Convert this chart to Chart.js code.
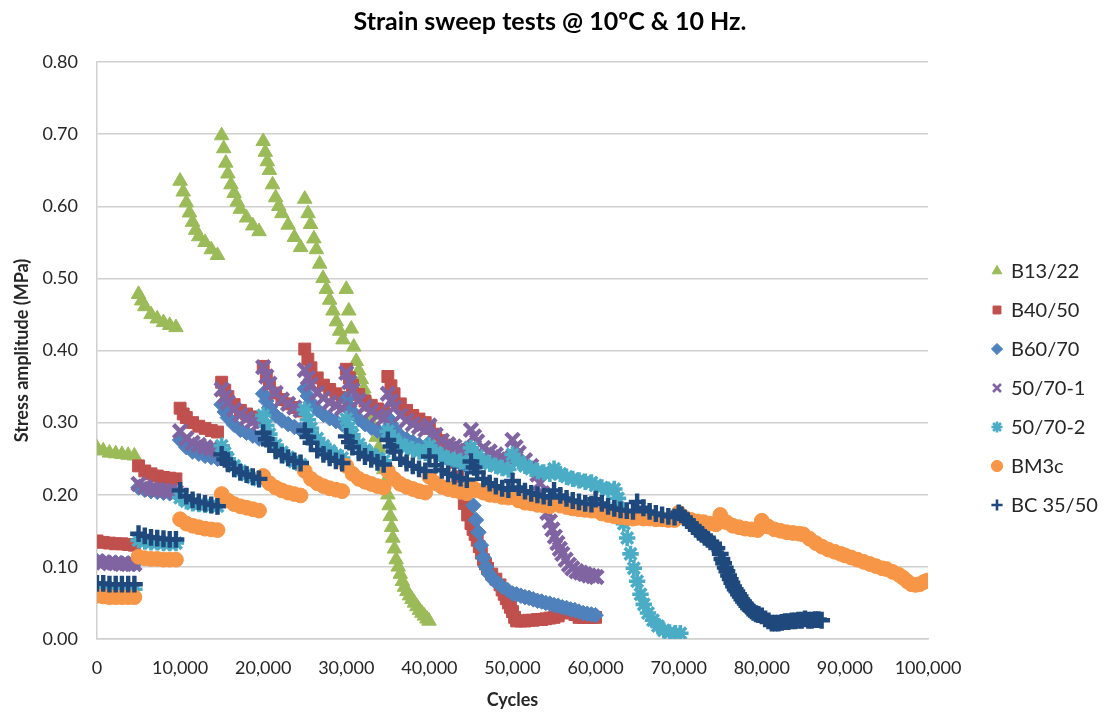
<!DOCTYPE html>
<html>
<head>
<meta charset="utf-8">
<script src="https://cdn.jsdelivr.net/npm/chart.js@4/dist/chart.umd.min.js"></script>
<style>
  html, body { margin: 0; padding: 0; background: #fff; }
  #wrap { width: 1111px; height: 715px; position: relative; }
</style>
</head>
<body>
<div id="wrap"><canvas id="c" width="1111" height="715"></canvas></div>
<script>
// ---- Data (cycles, stress amplitude MPa) ----
const chartTitle = 'Strain sweep tests @ 10ºC & 10 Hz.';
const seriesNames = ['B13/22', 'B40/50', 'B60/70', '50/70-1', '50/70-2', 'BM3c', 'BC 35/50'];

const b1322 = [
  [0,.265],[750,.261],[1500,.258],[2250,.257],[3000,.256],[3750,.255],[4500,.254],
  [5000,.478],[5375,.469],[5750,.461],[6500,.450],[7250,.444],[8000,.439],[8750,.435],[9500,.432],
  [10000,.635],[10375,.620],[10750,.605],[11125,.591],[11500,.578],[11875,.567],[12250,.558],[13000,.550],[13750,.540],[14500,.532],
  [15000,.698],[15250,.680],[15500,.660],[15750,.645],[16125,.630],[16500,.618],[16875,.606],[17250,.596],[18000,.584],[18750,.573],[19500,.565],
  [20000,.690],[20250,.675],[20500,.662],[20750,.650],[21125,.630],[21500,.612],[21875,.600],[22250,.590],[23000,.574],[23750,.557],[24500,.543],
  [25000,.610],[25400,.590],[25700,.575],[26100,.555],[26400,.540],[26800,.520],[27200,.500],[27600,.485],[28000,.470],[28400,.455],[28800,.440],[29200,.427],[29600,.415],
  [30000,.485],[30300,.455],[30600,.430],[30900,.405],[31200,.385],[31500,.372],[31800,.360],[32100,.347],[32400,.335],[32700,.322],[33000,.310],[33300,.295],[33600,.280],[33900,.265],[34200,.250],[34500,.235],[34800,.220],
  [35000,.200],[35150,.185],[35300,.170],[35450,.155],[35600,.140],[35800,.125],[36000,.110],[36250,.100],[36500,.090],[36750,.080],[37000,.072],[37300,.066],[37600,.060],[37900,.055],[38200,.050],[38500,.045],[38800,.040],[39100,.036],[39400,.032],[39700,.028],[39950,.025]
];

const b4050 = [
  [0,.136],[750,.134],[1500,.133],[2250,.132],[3000,.132],[3750,.131],[4500,.130],
  [5000,.240],[5750,.233],[6500,.229],[7250,.226],[8000,.224],[8750,.223],[9500,.222],
  [10000,.320],[10375,.312],[10750,.307],[11500,.300],[12250,.295],[13000,.292],[13750,.289],[14500,.287],
  [15000,.356],[15375,.345],[15750,.336],[16500,.325],[17250,.317],[18000,.312],[18750,.308],[19500,.304],
  [20000,.378],[20375,.365],[20750,.354],[21500,.341],[22250,.332],[23000,.326],[23750,.321],[24500,.316],
  [25000,.402],[25375,.388],[25750,.376],[26500,.362],[27250,.352],[28000,.346],[28750,.340],[29500,.335],
  [30000,.374],[30375,.362],[30750,.352],[31500,.339],[32250,.330],[33000,.324],[33750,.319],[34500,.315],
  [35000,.364],[35375,.351],[35750,.340],[36500,.326],[37250,.317],[38000,.310],[38750,.305],[39500,.300],
  [40000,.292],[40750,.284],[41500,.275],[42250,.265],[43000,.245],[43400,.225],[43800,.205],[44200,.188],[44600,.172],
  [45000,.160],[45250,.152],[45500,.145],[45750,.137],[46000,.128],[46250,.119],[46500,.110],[46750,.104],[47000,.098],[47500,.090],[48000,.083],[48500,.075],[48750,.068],[49000,.062],[49250,.056],[49500,.050],[49750,.044],[50000,.038],[50250,.030],
  [50500,.025],[51000,.025],[51500,.025],[52000,.026],[52500,.026],[53000,.027],[53500,.027],[54000,.028],[54500,.029],[55000,.030],[55500,.032],[56000,.036],[56500,.040],[57000,.038],[57500,.034],[58000,.030],[58500,.030],[59000,.030],[59500,.030],[60000,.030]
];

const b6070 = [
  [0,.108],[750,.107],[1500,.106],[2250,.106],[3000,.105],[3750,.105],[4500,.104],
  [5000,.210],[5750,.207],[6500,.205],[7250,.204],[8000,.203],[8750,.202],[9500,.202],
  [10000,.276],[10750,.266],[11500,.260],[12250,.257],[13000,.254],[13750,.252],[14500,.250],
  [15000,.325],[15375,.315],[15750,.307],[16500,.297],[17250,.290],[18000,.286],[18750,.282],[19500,.278],
  [20000,.340],[20375,.330],[20750,.321],[21500,.310],[22250,.303],[23000,.298],[23750,.294],[24500,.290],
  [25000,.347],[25375,.337],[25750,.328],[26500,.318],[27250,.311],[28000,.306],[28750,.302],[29500,.298],
  [30000,.333],[30375,.323],[30750,.315],[31500,.305],[32250,.298],[33000,.293],[33750,.289],[34500,.286],
  [35000,.307],[35375,.298],[35750,.291],[36500,.282],[37250,.277],[38000,.273],[38750,.269],[39500,.266],
  [40000,.272],[40750,.260],[41500,.253],[42250,.249],[43000,.246],[43750,.243],[44500,.240],
  [45000,.205],[45300,.185],[45600,.165],[45900,.148],[46200,.130],[46500,.113],[46800,.100],[47200,.090],[47700,.082],[48300,.077],[48800,.072],[49400,.068],
  [50000,.063],[50500,.062],[51000,.060],[51500,.058],[52000,.057],[52500,.055],[53000,.053],[53500,.052],[54000,.050],[54500,.049],[55000,.047],[55500,.046],[56000,.044],[56500,.043],[57000,.041],[57500,.040],[58000,.038],[58500,.036],[59000,.035],[59500,.034],[60000,.033]
];

const m5070a = [
  [0,.108],[750,.106],[1500,.105],[2250,.105],[3000,.104],[3750,.104],[4500,.104],
  [5000,.215],[5750,.211],[6500,.208],[7250,.207],[8000,.206],[8750,.205],[9500,.204],
  [10000,.288],[10750,.278],[11500,.272],[12250,.269],[13000,.266],[13750,.264],[14500,.262],
  [15000,.346],[15375,.336],[15750,.328],[16500,.318],[17250,.311],[18000,.306],[18750,.302],[19500,.299],
  [20000,.377],[20375,.364],[20750,.354],[21500,.341],[22250,.332],[23000,.326],[23750,.321],[24500,.317],
  [25000,.373],[25375,.362],[25750,.353],[26500,.341],[27250,.334],[28000,.328],[28750,.324],[29500,.320],
  [30000,.369],[30375,.356],[30750,.345],[31500,.331],[32250,.322],[33000,.316],[33750,.310],[34500,.306],
  [35000,.340],[35375,.330],[35750,.321],[36500,.310],[37250,.303],[38000,.298],[38750,.294],[39500,.290],
  [40000,.296],[40750,.283],[41500,.275],[42250,.270],[43000,.267],[43750,.264],[44500,.261],
  [45000,.290],[45375,.281],[45750,.274],[46500,.265],[47250,.260],[48000,.256],[48750,.252],[49500,.249],
  [50000,.276],[50375,.266],[50750,.258],[51500,.248],[52250,.240],[53000,.228],[53300,.216],[53600,.202],[53900,.188],[54200,.175],[54500,.163],[54800,.152],[55100,.142],[55400,.133],[55700,.125],[56000,.118],[56400,.110],[56800,.103],[57200,.098],[57700,.094],[58200,.092],[58700,.090],[59200,.088],[59700,.087],[60100,.086]
];

const m5070b = [
  [0,.072],[750,.071],[1500,.070],[2250,.070],[3000,.070],[3750,.069],[4500,.069],
  [5000,.137],[5750,.135],[6500,.134],[7250,.134],[8000,.133],[8750,.133],[9500,.133],
  [10000,.196],[10750,.191],[11500,.188],[12250,.187],[13000,.186],[13750,.185],[14500,.184],
  [15000,.268],[15375,.258],[15750,.250],[16500,.240],[17250,.233],[18000,.228],[18750,.224],[19500,.221],
  [20000,.310],[20375,.296],[20750,.284],[21500,.269],[22250,.259],[23000,.252],[23750,.246],[24500,.242],
  [25000,.318],[25375,.304],[25750,.292],[26500,.278],[27250,.268],[28000,.261],[28750,.255],[29500,.251],
  [30000,.305],[30375,.293],[30750,.283],[31500,.270],[32250,.262],[33000,.256],[33750,.251],[34500,.247],
  [35000,.288],[35750,.277],[36500,.270],[37250,.266],[38000,.263],[38750,.260],[39500,.258],
  [40000,.268],[40750,.259],[41500,.254],[42250,.250],[43000,.248],[43750,.246],[44500,.244],
  [45000,.265],[45750,.254],[46500,.247],[47250,.243],[48000,.240],[48750,.237],[49500,.235],
  [50000,.256],[50750,.246],[51500,.240],[52250,.236],[53000,.233],[53750,.231],[54500,.229],
  [55000,.236],[55750,.229],[56500,.225],[57250,.222],[58000,.220],[58750,.218],[59500,.217],
  [60000,.213],[60750,.210],[61500,.207],[62250,.208],[62700,.195],[63000,.180],[63400,.160],[63800,.140],[64200,.118],[64600,.098],[65000,.080],[65400,.062],[65800,.048],[66300,.036],[66900,.026],[67500,.018],[68200,.012],[68900,.009],[69600,.008],[70200,.008]
];

const bm3c = [
  [0,.060],[750,.059],[1500,.058],[2250,.058],[3000,.058],[3750,.058],[4500,.058],
  [5000,.114],[5750,.112],[6500,.111],[7250,.111],[8000,.110],[8750,.110],[9500,.110],
  [10000,.166],[10750,.160],[11500,.157],[12250,.155],[13000,.153],[13750,.152],[14500,.151],
  [15000,.201],[15750,.192],[16500,.187],[17250,.184],[18000,.182],[18750,.180],[19500,.178],
  [20000,.226],[20750,.216],[21500,.210],[22250,.206],[23000,.203],[23750,.201],[24500,.199],
  [25000,.233],[25750,.222],[26500,.216],[27250,.212],[28000,.209],[28750,.207],[29500,.205],
  [30000,.240],[30750,.229],[31500,.222],[32250,.218],[33000,.215],[33750,.212],[34500,.210],
  [35000,.233],[35750,.222],[36500,.215],[37250,.211],[38000,.208],[38750,.205],[39500,.203],
  [40000,.225],[40750,.216],[41500,.211],[42250,.208],[43000,.206],[43750,.204],[44500,.202],
  [45000,.213],[45750,.206],[46500,.203],[47250,.200],[48000,.199],[48750,.197],[49500,.196],
  [50000,.197],[50750,.192],[51500,.189],[52250,.188],[53000,.186],[53750,.185],[54500,.184],
  [55000,.189],[55750,.185],[56500,.183],[57250,.181],[58000,.180],[58750,.179],[59500,.178],
  [60000,.178],[60750,.174],[61500,.172],[62250,.170],[63000,.169],[63750,.168],[64500,.167],
  [65000,.168],[65750,.167],[66500,.167],[67250,.166],[68000,.166],[68750,.165],[69500,.165],
  [70000,.175],[70750,.168],[71500,.165],[72250,.163],[73000,.162],[73750,.160],[74500,.159],
  [75000,.172],[75750,.162],[76500,.157],[77250,.155],[78000,.153],[78750,.152],[79500,.151],
  [80000,.164],[80750,.156],[81500,.152],[82250,.150],[83000,.148],[83750,.147],[84500,.146],
  [85000,.145],[85750,.139],[86500,.133],[87250,.128],[88000,.124],[88750,.121],[89500,.118],
  [90000,.116],[90750,.113],[91500,.110],[92250,.107],[93000,.104],[93750,.101],[94500,.098],
  [95000,.097],[95750,.093],[96500,.089],[97000,.085],[97500,.080],[98000,.076],[98500,.075],[99000,.076],[99500,.079],[99900,.081]
];

const bc3550 = [
  [0,.077],[750,.077],[1500,.076],[2250,.076],[3000,.076],[3750,.076],[4500,.076],
  [5000,.146],[5750,.143],[6500,.141],[7250,.140],[8000,.139],[8750,.138],[9500,.138],
  [10000,.206],[10750,.198],[11500,.193],[12250,.190],[13000,.188],[13750,.186],[14500,.184],
  [15000,.256],[15375,.249],[15750,.243],[16500,.236],[17250,.231],[18000,.228],[18750,.225],[19500,.222],
  [20000,.286],[20375,.277],[20750,.270],[21500,.261],[22250,.255],[23000,.251],[23750,.247],[24500,.244],
  [25000,.289],[25375,.280],[25750,.272],[26500,.262],[27250,.256],[28000,.251],[28750,.247],[29500,.244],
  [30000,.281],[30375,.273],[30750,.266],[31500,.258],[32250,.253],[33000,.249],[33750,.245],[34500,.242],
  [35000,.276],[35375,.267],[35750,.260],[36500,.250],[37250,.244],[38000,.240],[38750,.236],[39500,.233],
  [40000,.253],[40750,.241],[41500,.234],[42250,.229],[43000,.226],[43750,.223],[44500,.221],
  [45000,.246],[45375,.238],[45750,.231],[46500,.222],[47250,.216],[48000,.212],[48750,.209],[49500,.207],
  [50000,.219],[50750,.210],[51500,.205],[52250,.202],[53000,.200],[53750,.198],[54500,.196],
  [55000,.206],[55750,.199],[56500,.195],[57250,.192],[58000,.190],[58750,.188],[59500,.187],
  [60000,.194],[60750,.188],[61500,.184],[62250,.181],[63000,.179],[63750,.178],[64500,.177],
  [65000,.190],[65750,.182],[66500,.177],[67250,.174],[68000,.172],[68750,.170],[69500,.169],
  [70000,.175],[70350,.172],[70700,.168],[71050,.164],[71400,.160],[71750,.156],[72100,.152],[72450,.148],[72800,.145],[73150,.141],[73500,.138],[73850,.135],[74200,.132],[74600,.126],
  [75000,.118],[75200,.111],[75400,.105],[75600,.099],[75800,.094],[76000,.088],[76200,.083],[76400,.078],[76600,.073],[76800,.069],[77000,.066],[77200,.062],[77400,.059],[77600,.055],[77800,.052],[78000,.049],[78200,.046],[78400,.043],[78600,.041],[78800,.039],[79000,.037],[79300,.035],[79600,.034],
  [80000,.032],[80400,.028],[80800,.025],[81200,.022],[81600,.022],[82000,.022],[82400,.023],[82800,.024],[83200,.024],[83600,.025],[84000,.025],[84400,.026],[84800,.026],
  [85200,.028],[85600,.026],[86000,.026],[86400,.027],[86800,.027],[87200,.026]
];

const yTicks = [0, 0.1, 0.2, 0.3, 0.4, 0.5, 0.6, 0.7, 0.8];
const xTicks = [0, 10000, 20000, 30000, 40000, 50000, 60000, 70000, 80000, 90000, 100000];

const seriesData = [b1322, b4050, b6070, m5070a, m5070b, bm3c, bc3550];
const colors = ['#9BBB59', '#C0504D', '#4F81BD', '#8064A2', '#4BACC6', '#F79646', '#1F497D'];
const styles = ['triangle', 'rect', 'rectRot', 'crossRot', 'star', 'circle', 'cross'];
const radii = [8.4, 8.4, 7.8, 9.4, 8.2, 7.4, 8.4];
const borders = [1, 1, 1, 4.4, 3.6, 1, 4.4];

const datasets = seriesNames.map((name, i) => ({
  label: name,
  order: seriesNames.length - 1 - i,
  data: seriesData[i].map(p => ({x: p[0], y: p[1]})),
  showLine: false,
  pointStyle: styles[i],
  pointRadius: radii[i],
  pointHoverRadius: radii[i],
  pointBorderWidth: borders[i],
  borderColor: colors[i],
  backgroundColor: colors[i],
  pointBackgroundColor: colors[i],
  pointBorderColor: colors[i]
}));

const FONT = 'Lato, "Liberation Sans", sans-serif';

const decor = {
  id: 'decor',
  afterDraw(chart) {
    const ctx = chart.ctx;
    ctx.save();
    // title
    ctx.fillStyle = '#000';
    ctx.font = 'bold 25px ' + FONT;
    ctx.textAlign = 'center';
    ctx.textBaseline = 'middle';
    ctx.fillText(chartTitle, 550, 22);
    // legend
    chart.data.datasets.forEach((ds, i) => {
      const y = 271 + i * 39;
      ctx.fillStyle = colors[i];
      ctx.strokeStyle = colors[i];
      ctx.lineWidth = borders[i] > 1 ? 2.6 : 1;
      Chart.helpers.drawPoint(ctx, {pointStyle: styles[i], radius: 5.6, rotation: 0, borderWidth: ctx.lineWidth}, 997, y);
      ctx.fillStyle = '#262626';
      ctx.font = '20px ' + FONT;
      ctx.textAlign = 'left';
      ctx.textBaseline = 'middle';
      ctx.fillText(ds.label, 1011, y + 1);
    });
    ctx.restore();
  }
};

new Chart(document.getElementById('c'), {
  type: 'scatter',
  data: { datasets },
  plugins: [decor],
  options: {
    responsive: false,
    animation: false,
    events: [],
    layout: { padding: { left: 0, right: 183, top: 62, bottom: 0 } },
    plugins: {
      legend: { display: false },
      tooltip: { enabled: false },
      title: { display: false }
    },
    scales: {
      x: {
        type: 'linear',
        min: 0, max: 100000,
        afterBuildTicks(scale) { scale.ticks = xTicks.map(v => ({value: v})); },
        afterFit(scale) { scale.height = 76; },
        grid: { display: false, drawTicks: false },
        border: { display: true, color: '#D0D0D0', width: 1.5 },
        ticks: {
          padding: 18,
          color: '#262626',
          font: { family: FONT, size: 18 },
          maxRotation: 0,
          callback: v => v.toLocaleString('en-US')
        },
        title: {
          display: true, text: 'Cycles', color: '#262626',
          font: { family: FONT, size: 18, weight: 'bold' },
          padding: { top: 0, bottom: 4 }
        }
      },
      y: {
        type: 'linear',
        min: 0, max: 0.8,
        afterBuildTicks(scale) { scale.ticks = yTicks.map(v => ({value: v})); },
        afterFit(scale) { scale.width = 97; },
        grid: { color: '#D0D0D0', lineWidth: 1.5, drawTicks: false },
        border: { display: true, color: '#D0D0D0', width: 1.5 },
        ticks: {
          padding: 19,
          color: '#262626',
          font: { family: FONT, size: 18 },
          callback: v => Number(v).toFixed(2)
        },
        title: {
          display: true, text: 'Stress amplitude (MPa)', color: '#262626',
          font: { family: FONT, size: 18, weight: 'bold' },
          padding: { top: 11, bottom: 0 }
        }
      }
    }
  }
});
</script>
</body>
</html>
